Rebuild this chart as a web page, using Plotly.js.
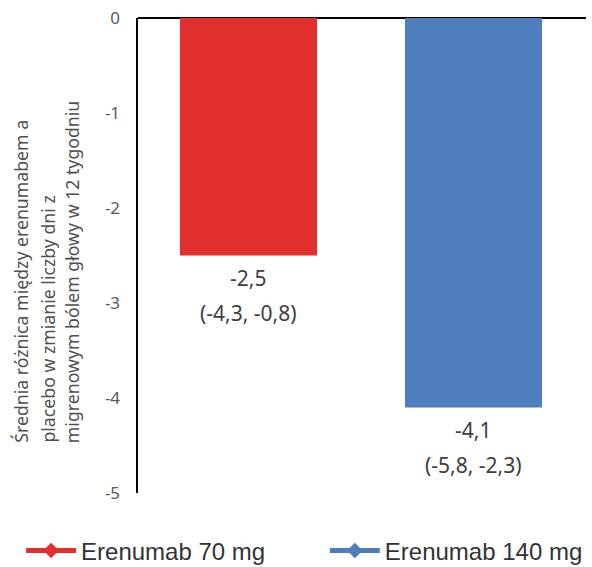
<!DOCTYPE html>
<html>
<head>
<meta charset="utf-8">
<script src="https://cdn.plot.ly/plotly-3.0.1.min.js"></script>
<style>html,body{margin:0;padding:0;background:#fff;}#chart{width:592px;height:567px;}</style>
</head>
<body>
<div id="chart"></div>
<script>
// Data
const categories = ["Erenumab 70 mg", "Erenumab 140 mg"];
const meanDiff = [-2.5, -4.1];
const valueLabels = ["-2,5", "-4,1"];
const ciLabels = ["(-4,3, -0,8)", "(-5,8, -2,3)"];
const colors = ["#E2302F", "#4E7EBE"];
const yTickVals = [0, -1, -2, -3, -4, -5];
const yTickText = ["0", "-1", "-2", "-3", "-4", "-5"];
const yTitleLines = [
  "Średnia różnica między erenumabem a",
  "placebo w zmianie liczby dni z",
  "migrenowym bólem głowy w 12 tygodniu"
];
const legendIds = ["legend", "legend2"];

const traces = [];
categories.forEach((c, i) => {
  traces.push({
    type: "bar",
    x: [c],
    y: [meanDiff[i]],
    marker: {color: colors[i]},
    showlegend: false,
    hoverinfo: "skip"
  });
});
categories.forEach((c, i) => {
  traces.push({
    type: "scatter",
    mode: "lines+markers",
    x: [null],
    y: [null],
    name: c,
    legend: legendIds[i],
    line: {color: colors[i], width: 5},
    marker: {color: colors[i], symbol: "diamond", size: 12},
    showlegend: true
  });
});

const legendFont = {family: "Liberation Sans, Arial, sans-serif", size: 24, color: "#333333"};
const labelFont = {family: "Noto Sans, sans-serif", size: 21, color: "#404040"};
const titleXs = [-0.263, -0.203, -0.147];

const annotations = [];
yTitleLines.forEach((t, i) => {
  annotations.push({
    text: t,
    xref: "paper",
    yref: "paper",
    x: titleXs[i],
    y: 0.101,
    xanchor: "center",
    yanchor: "bottom",
    textangle: -90,
    showarrow: false,
    font: {family: "Noto Sans, sans-serif", size: 17.7, color: "#505050"}
  });
});
categories.forEach((c, i) => {
  annotations.push({
    text: valueLabels[i], x: c, y: meanDiff[i], xref: "x", yref: "y",
    xanchor: "center", yanchor: "middle", yshift: -22,
    showarrow: false, font: labelFont
  });
  annotations.push({
    text: ciLabels[i], x: c, y: meanDiff[i], xref: "x", yref: "y",
    xanchor: "center", yanchor: "middle", yshift: -57,
    showarrow: false, font: labelFont
  });
});

const layout = {
  width: 592,
  height: 567,
  margin: {l: 138, r: 6, t: 18, b: 74, autoexpand: false},
  paper_bgcolor: "#ffffff",
  plot_bgcolor: "#ffffff",
  barmode: "overlay",
  bargap: 0.391,
  showlegend: true,
  xaxis: {
    type: "category",
    categoryorder: "array",
    categoryarray: categories,
    range: [-0.491, 1.5],
    showticklabels: false,
    showgrid: false,
    zeroline: false,
    showline: false,
    ticks: ""
  },
  yaxis: {
    range: [-5, 0],
    tickvals: yTickVals,
    ticktext: yTickText,
    showgrid: false,
    zeroline: true,
    zerolinecolor: "#000000",
    zerolinewidth: 2.5,
    showline: true,
    linecolor: "#000000",
    linewidth: 2.5,
    ticks: "",
    ticklabelstandoff: 12,
    tickfont: {family: "Noto Sans, sans-serif", size: 17, color: "#595959"}
  },
  annotations: annotations,
  legend: {
    orientation: "h",
    x: -0.261,
    xanchor: "left",
    y: -0.122,
    yanchor: "middle",
    itemwidth: 50,
    font: legendFont
  },
  legend2: {
    orientation: "h",
    x: 0.417,
    xanchor: "left",
    y: -0.122,
    yanchor: "middle",
    itemwidth: 50,
    font: legendFont
  }
};

Plotly.newPlot("chart", traces, layout, {displayModeBar: false, staticPlot: true});
</script>
</body>
</html>
